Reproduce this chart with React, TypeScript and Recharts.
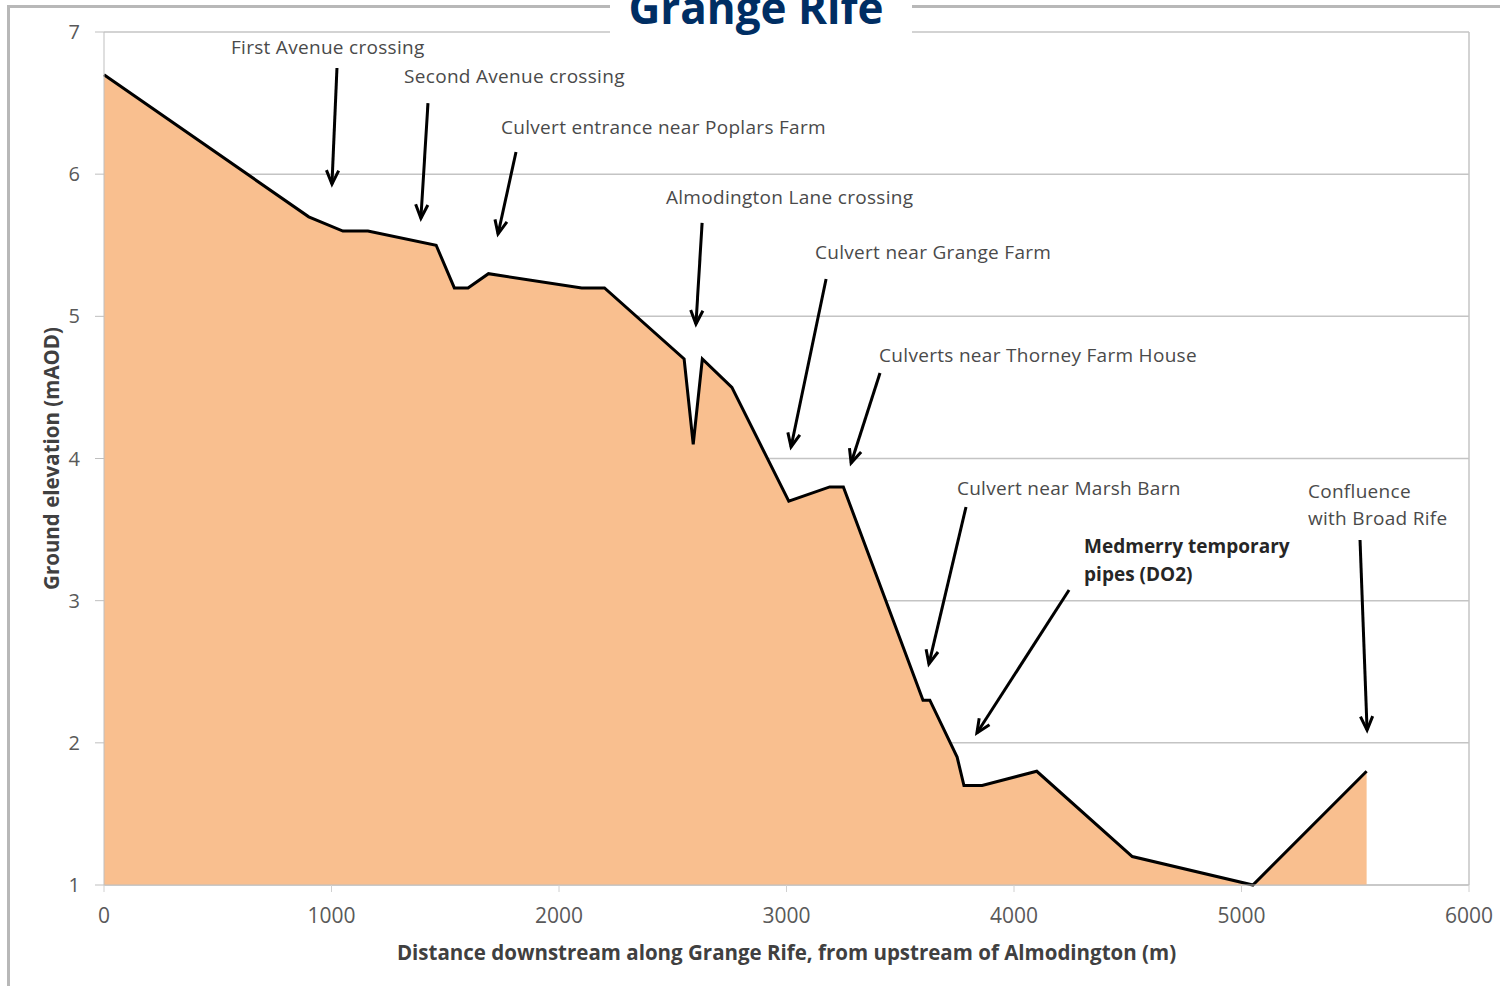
import React from 'react';
import { ComposedChart, Area, XAxis, YAxis, CartesianGrid, ReferenceLine, ReferenceDot } from 'recharts';

const distance = [0, 900, 1050, 1160, 1460, 1540, 1600, 1690, 2100, 2200, 2550, 2590, 2630, 2760, 3010, 3190, 3250, 3600, 3630, 3750, 3780, 3860, 4100, 4520, 5050, 5550];
const elevation = [6.7, 5.7, 5.6, 5.6, 5.5, 5.2, 5.2, 5.3, 5.2, 5.2, 4.7, 4.1, 4.7, 4.5, 3.7, 3.8, 3.8, 2.3, 2.3, 1.9, 1.7, 1.7, 1.8, 1.2, 1.0, 1.8];
const xTicks = [0, 1000, 2000, 3000, 4000, 5000, 6000];
const yTicks = [1, 2, 3, 4, 5, 6, 7];

const labelTexts = [
  'First Avenue crossing',
  'Second Avenue crossing',
  'Culvert entrance near Poplars Farm',
  'Almodington Lane crossing',
  'Culvert near Grange Farm',
  'Culverts near Thorney Farm House',
  'Culvert near Marsh Barn',
  'Medmerry temporary',
  'pipes (DO2)',
  'Confluence',
  'with Broad Rife',
];
const labelX = [558, 1319, 1745, 2470, 3125, 3407, 3749, 4308, 4308, 5292, 5292];
const labelY = [6.894, 6.69, 6.332, 5.839, 5.453, 4.728, 3.793, 3.385, 3.188, 3.771, 3.582];
const labelBold = [false, false, false, false, false, false, false, true, true, false, false];

const arrowX1 = [1024, 1424, 1811, 2629, 3174, 3411, 3789, 4242, 5521];
const arrowY1 = [6.747, 6.5, 6.156, 5.657, 5.263, 4.601, 3.659, 3.075, 3.427];
const arrowX2 = [1002, 1393, 1732, 2602, 3020, 3284, 3626, 3837, 5552];
const arrowY2 = [5.93, 5.69, 5.579, 4.946, 4.081, 3.968, 2.555, 2.069, 2.09];

const data = distance.map((d, i) => ({ d, e: elevation[i] }));

const FONT = '"Open Sans", sans-serif';

const ArrowShape = (props: any) => {
  const { x1, y1, x2, y2 } = props;
  const ang = Math.atan2(y2 - y1, x2 - x1);
  const len = 15;
  const spread = 0.42;
  const ax = x2 - len * Math.cos(ang - spread);
  const ay = y2 - len * Math.sin(ang - spread);
  const bx = x2 - len * Math.cos(ang + spread);
  const by = y2 - len * Math.sin(ang + spread);
  return (
    <g>
      <line x1={x1} y1={y1} x2={x2} y2={y2} stroke="#000" strokeWidth={3} />
      <polyline points={`${ax},${ay} ${x2},${y2} ${bx},${by}`} fill="none" stroke="#000" strokeWidth={3} strokeLinejoin="miter" />
    </g>
  );
};

const makeText = (text: string, bold: boolean) => (p: any) => (
  <text
    x={p.cx}
    y={p.cy}
    dominantBaseline="central"
    fontFamily={FONT}
    fontSize={19}
    letterSpacing={bold ? 0 : 0.3}
    fontWeight={bold ? 700 : 400}
    fill={bold ? '#262626' : '#4a4a4a'}
  >
    {text}
  </text>
);

export default function App() {
  return (
    <div style={{ position: 'absolute', left: 0, top: 0, width: 1500, height: 986, background: '#fff', overflow: 'hidden' }}>
      <ComposedChart
        width={1500}
        height={986}
        data={data}
        margin={{ top: 32, right: 31, left: 0, bottom: 0 }}
      >
        <CartesianGrid vertical={false} stroke="#c4c4c4" strokeWidth={1.5} />
        <XAxis
          dataKey="d"
          type="number"
          domain={[0, 6000]}
          ticks={xTicks}
          height={101}
          tickSize={7}
          tickMargin={16}
          axisLine={{ stroke: '#bfbfbf' }}
          tickLine={{ stroke: '#d0d0d0' }}
          tick={{ fontFamily: FONT, fontSize: 21, fill: '#595959' }}
          label={{
            value: 'Distance downstream along Grange Rife, from upstream of Almodington (m)',
            position: 'insideBottom',
            offset: 26,
            style: { fontFamily: FONT, fontSize: 20.5, fontWeight: 700, fill: '#404040' },
          }}
        />
        <YAxis
          type="number"
          domain={[1, 7]}
          ticks={yTicks}
          width={104}
          tickSize={9}
          tickMargin={15}
          axisLine={{ stroke: '#bfbfbf' }}
          tickLine={{ stroke: '#bfbfbf' }}
          tick={{ fontFamily: FONT, fontSize: 20, fill: '#595959' }}
          label={{
            value: 'Ground elevation (mAOD)',
            angle: -90,
            position: 'insideLeft',
            offset: 52,
            style: { fontFamily: FONT, fontSize: 20.5, fontWeight: 700, fill: '#404040', textAnchor: 'middle' },
          }}
        />
        <ReferenceLine x={6000} stroke="#c4c4c4" strokeWidth={1.5} />
        <Area
          type="linear"
          dataKey="e"
          stroke="#000"
          strokeWidth={3}
          fill="#F9BF8F"
          fillOpacity={1}
          isAnimationActive={false}
          dot={false}
          activeDot={false}
        />
        {arrowX1.map((x, i) => (
          <ReferenceLine
            key={'a' + i}
            segment={[{ x, y: arrowY1[i] }, { x: arrowX2[i], y: arrowY2[i] }]}
            ifOverflow="visible"
            shape={ArrowShape}
          />
        ))}
        {labelTexts.map((t, i) => (
          <ReferenceDot
            key={'t' + i}
            x={labelX[i]}
            y={labelY[i]}
            r={0}
            ifOverflow="visible"
            shape={makeText(t, labelBold[i])}
          />
        ))}
      </ComposedChart>
      <div style={{ position: 'absolute', left: 7, top: 5, width: 1500, height: 990, borderTop: '3px solid #b8b8b8', borderLeft: '3px solid #b8b8b8', pointerEvents: 'none' }} />
      <div style={{ position: 'absolute', left: 610, top: 0, width: 302, height: 34, background: '#fff' }} />
      <svg style={{ position: 'absolute', left: 610, top: 0 }} width={302} height={40}>
        <text
          x={146}
          y={24}
          textAnchor="middle"
          fontFamily={FONT}
          fontWeight={700}
          fontSize={44}
          fill="#002E63"
        >
          Grange Rife
        </text>
      </svg>
    </div>
  );
}
